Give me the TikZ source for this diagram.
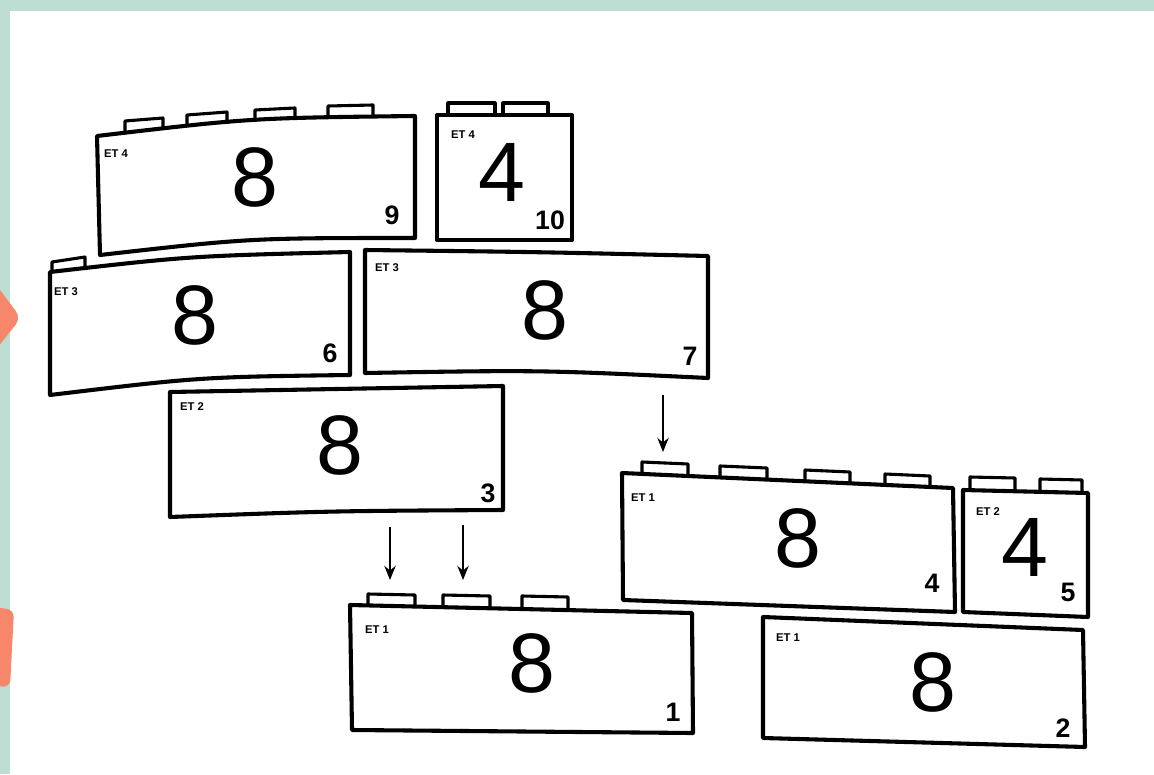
\documentclass[tikz,border=0pt]{standalone}
\usepackage{fontspec}
\setmainfont{Liberation Sans}
\usetikzlibrary{arrows.meta}
\definecolor{mint}{HTML}{BCDDD2}
\definecolor{salmon}{HTML}{F8866A}
\tikzset{
  brick/.style={line width=2.9pt,line join=round},
  stud/.style={line width=2.2pt,line join=round},
  big/.style={font=\fontsize{60}{60}\selectfont,inner sep=0pt},
  num/.style={font=\bfseries\fontsize{19}{19}\selectfont,inner sep=0pt},
  tag/.style={font=\bfseries\fontsize{8}{8}\selectfont,inner sep=0pt},
}
\begin{document}
\begin{tikzpicture}[x=0.025cm,y=-0.025cm,>={Stealth[length=10pt,width=8pt]}]
\useasboundingbox (0,0) rectangle (1154,774);
% frame of the page
\fill[mint] (0,0) rectangle (1154,11);
\fill[mint] (0,0) rectangle (10,774);
\fill[salmon,rounded corners=6pt] (-6,282) -- (21,318) -- (-6,352) -- cycle;
\fill[salmon,rounded corners=5pt] (-6,607) -- (14,610) -- (10,687) -- (-6,686) -- cycle;
% row ET 4
\draw[stud] (125,133) -- (125,121) -- (163,118) -- (163,130);
\draw[stud] (187,127) -- (187,115) -- (227,112) -- (227,124);
\draw[stud] (255,122) -- (255,110) -- (295,108) -- (295,120);
\draw[stud] (328,118) -- (328,106) -- (373,105) -- (373,117);
\draw[brick] (97,136) .. controls (250,118) .. (415,116) -- (415,238) .. controls (250,238) .. (100,255) -- cycle;
\node[tag] (et9) at (116,154) {ET 4};
\node[big] (v9) at (255,177) {8};
\node[num] (n9) at (392,215) {9};
\draw[stud] (448,115) -- (448,103) -- (495,103) -- (495,115);
\draw[stud] (503,115) -- (503,103) -- (548,103) -- (548,115);
\draw[brick] (437,115) rectangle (572,240);
\node[tag] (et10) at (463,135) {ET 4};
\node[big] (v10) at (502,172) {4};
\node[num] (n10) at (550,220) {10};
% row ET 3
\draw[stud] (52,272) -- (52,262) -- (85,257) -- (85,268);
\draw[brick] (50,272) .. controls (190,256) .. (350,252) -- (350,375) .. controls (200,377) .. (50,395) -- cycle;
\node[tag] (et6) at (66,292) {ET 3};
\node[big] (v6) at (195,315) {8};
\node[num] (n6) at (330,353) {6};
\draw[brick] (365,250) .. controls (540,252) .. (708,256) -- (708,378) .. controls (540,370) .. (365,373) -- cycle;
\node[tag] (et7) at (387,268) {ET 3};
\node[big] (v7) at (545,310) {8};
\node[num] (n7) at (690,356) {7};
% row ET 2
\draw[brick] (170,392) -- (503,386) -- (503,510) .. controls (330,511) .. (170,517) -- cycle;
\node[tag] (et3) at (192,407) {ET 2};
\node[big] (v3) at (340,445) {8};
\node[num] (n3) at (488,493) {3};
% row ET 1, left
\draw[stud] (368,605) -- (368,594) -- (415,595) -- (415,607);
\draw[stud] (443,607) -- (443,595) -- (490,596) -- (490,608);
\draw[stud] (522,609) -- (522,596) -- (568,597) -- (568,610);
\draw[brick] (350,605) -- (692,613) -- (693,733) -- (352,730) -- cycle;
\node[tag] (et1) at (377,630) {ET 1};
\node[big] (v1) at (532,663) {8};
\node[num] (n1) at (673,712) {1};
% right part
\draw[stud] (642,474) -- (642,462) -- (688,464) -- (688,476);
\draw[stud] (720,477) -- (720,466) -- (767,468) -- (767,480);
\draw[stud] (805,481) -- (805,470) -- (850,472) -- (850,483);
\draw[stud] (885,485) -- (885,474) -- (930,476) -- (930,487);
\draw[brick] (622,473) -- (953,488) -- (955,612) -- (623,600) -- cycle;
\node[tag] (et4) at (643,498) {ET 1};
\node[big] (v4) at (798,538) {8};
\node[num] (n4) at (932,583) {4};
\draw[stud] (970,490) -- (970,477) -- (1015,478) -- (1015,491);
\draw[stud] (1040,491) -- (1040,479) -- (1082,480) -- (1082,492);
\draw[brick] (963,490) -- (1088,493) -- (1088,617) -- (963,612) -- cycle;
\node[tag] (et5) at (988,512) {ET 2};
\node[big] (v5) at (1025,547) {4};
\node[num] (n5) at (1068,592) {5};
\draw[brick] (763,617) -- (1083,630) -- (1085,747) -- (763,738) -- cycle;
\node[tag] (et2) at (788,638) {ET 1};
\node[big] (v2) at (933,682) {8};
\node[num] (n2) at (1063,728) {2};
% arrows
\coordinate (p1) at (390,527);
\coordinate (q1) at (390,580);
\coordinate (p2) at (463,525);
\coordinate (q2) at (463,580);
\coordinate (p3) at (663,395);
\coordinate (q3) at (663,452);
\draw[->,line width=1.7pt] (p1) -- (q1);
\draw[->,line width=1.7pt] (p2) -- (q2);
\draw[->,line width=1.7pt] (p3) -- (q3);
\end{tikzpicture}
\end{document}
